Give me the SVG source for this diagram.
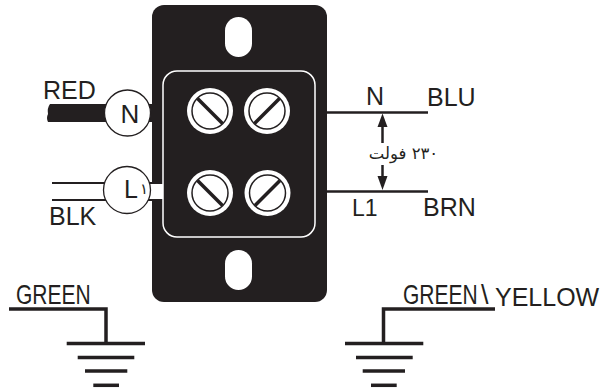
<svg xmlns="http://www.w3.org/2000/svg" width="601" height="389" viewBox="0 0 601 389">
<style>
.t{font-family:"Liberation Sans",Arial,sans-serif;fill:#231f20}
.ar{font-family:"DejaVu Sans",sans-serif;fill:#231f20}
.w{stroke:#231f20;fill:none}
.screw-ring{fill:#fff}
.screw-in{fill:#fff;stroke:#231f20;stroke-width:1.5}
.slash{stroke:#231f20;stroke-width:3.5}
.term{fill:#fff;stroke:#231f20;stroke-width:1.3}
.g{stroke:#231f20;stroke-width:3.5;fill:none}
</style>
<defs>
<g id="screwA"><circle r="23" class="screw-ring"/><circle r="18" class="screw-in"/><line x1="-12.5" y1="-12.5" x2="12.5" y2="12.5" class="slash"/></g>
<g id="screwB"><circle r="23" class="screw-ring"/><circle r="18" class="screw-in"/><line x1="12.5" y1="-12.5" x2="-12.5" y2="12.5" class="slash"/></g>
</defs>
<rect width="601" height="389" fill="#fff"/>
<g id="connectors">
<path d="M50,104 L152,104 L152,122 L48,122 Q46,118 48,114 Q47,108 50,104 Z" fill="#231f20"/>
<line x1="52" y1="183" x2="153" y2="183" class="w" stroke-width="2"/>
<line x1="52" y1="200" x2="153" y2="200" class="w" stroke-width="2"/>
<line x1="326" y1="112.5" x2="428" y2="112.5" class="w" stroke-width="2.5"/>
<line x1="326" y1="191.5" x2="428" y2="191.5" class="w" stroke-width="2.5"/>
<line x1="382.5" y1="125" x2="382.5" y2="143" class="w" stroke-width="2.5"/>
<polygon points="382.5,113.5 377.5,127 387.5,127" fill="#231f20"/>
<line x1="382.5" y1="165" x2="382.5" y2="178" class="w" stroke-width="2.5"/>
<polygon points="377.5,176 387.5,176 382.5,190" fill="#231f20"/>
</g>
<g id="plate">
<rect x="152" y="5" width="175" height="297" rx="12" fill="#231f20"/>
<rect x="225" y="17" width="27" height="40" rx="13.5" fill="#fff"/>
<rect x="225" y="250" width="27" height="40" rx="13.5" fill="#fff"/>
<rect x="163" y="71" width="152" height="166" rx="14" fill="none" stroke="#fff" stroke-width="1.5"/>
<rect x="152" y="184" width="11" height="15" fill="#fff"/>
<use href="#screwA" x="210" y="111"/>
<use href="#screwB" x="267" y="111"/>
<use href="#screwA" x="210" y="193"/>
<use href="#screwB" x="267.5" y="193"/>
</g>
<g id="n-terminal">
<circle cx="127.5" cy="113" r="23" class="term"/>
<text x="130" y="122.5" font-size="26" text-anchor="middle" class="t">N</text>
</g>
<g id="l-terminal">
<circle cx="127" cy="190" r="23.5" class="term"/>
<text x="124" y="198" font-size="25" class="t">L<tspan class="ar" font-size="15" dx="2" dy="-4">١</tspan></text>
</g>
<g id="labels">
<text x="43" y="99" font-size="25" class="t">RED</text>
<text x="49" y="224.5" font-size="25" class="t">BLK</text>
<text x="366" y="105" font-size="25" class="t">N</text>
<text x="427" y="105.5" font-size="25" class="t">BLU</text>
<text x="352" y="215.5" font-size="23" class="t">L1</text>
<text x="423" y="215.5" font-size="25" class="t">BRN</text>
<text x="403.5" y="159" font-size="16.5" text-anchor="middle" class="ar">٢٣٠ فولت</text>
</g>
<g id="ground-left">
<polyline points="9,309 106,309 106,343" class="g"/>
<line x1="66.7" y1="343.5" x2="145" y2="343.5" class="g"/>
<line x1="77.7" y1="357.5" x2="134.3" y2="357.5" class="g"/>
<line x1="85" y1="371" x2="127.3" y2="371" class="g"/>
<line x1="93.3" y1="385.3" x2="119" y2="385.3" class="g"/>
<text transform="translate(16,304) scale(0.75,1)" font-size="28" class="t">GREEN</text>
</g>
<g id="ground-right">
<polyline points="495,309 383.5,309 383.5,343" class="g"/>
<line x1="345" y1="343.5" x2="423.3" y2="343.5" class="g"/>
<line x1="356" y1="357.5" x2="412.7" y2="357.5" class="g"/>
<line x1="362.7" y1="371" x2="405" y2="371" class="g"/>
<line x1="371" y1="385.3" x2="396.7" y2="385.3" class="g"/>
<text transform="translate(403,304) scale(0.75,1)" font-size="28" class="t">GREEN</text>
<text x="481" y="304" font-size="27" class="t">\</text>
<text x="495" y="305.5" font-size="25" class="t">YELLOW</text>
</g>
</svg>
